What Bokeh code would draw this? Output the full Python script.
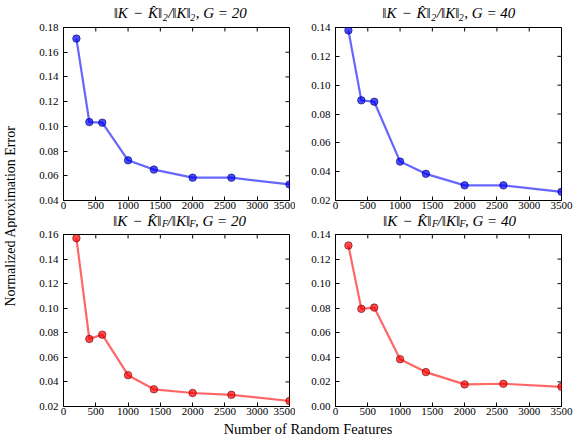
import math
from bokeh.plotting import figure
from bokeh.layouts import row, column
from bokeh.models import Range1d, FixedTicker, PrintfTickFormatter, Label
from bokeh.embed import file_html
from bokeh.resources import INLINE

# ---------------- data ----------------
features = [200, 400, 600, 1000, 1400, 2000, 2600, 3500]
err_spec_g20 = [0.171, 0.1035, 0.103, 0.0725, 0.065, 0.0585, 0.0585, 0.053]
err_spec_g40 = [0.138, 0.0895, 0.0885, 0.047, 0.0385, 0.0305, 0.0305, 0.026]
err_frob_g20 = [0.157, 0.075, 0.0785, 0.0455, 0.034, 0.031, 0.0295, 0.0245]
err_frob_g40 = [0.131, 0.0795, 0.0805, 0.0385, 0.028, 0.018, 0.0185, 0.016]

x_ticks = [0, 500, 1000, 1500, 2000, 2500, 3000, 3500]
y_ticks_spec_g20 = [0.04, 0.06, 0.08, 0.10, 0.12, 0.14, 0.16, 0.18]
y_ticks_spec_g40 = [0.02, 0.04, 0.06, 0.08, 0.10, 0.12, 0.14]
y_ticks_frob_g20 = [0.02, 0.04, 0.06, 0.08, 0.10, 0.12, 0.14, 0.16]
y_ticks_frob_g40 = [0.00, 0.02, 0.04, 0.06, 0.08, 0.10, 0.12, 0.14]

y_label = "Normalized Aproximation Error"
x_label = "Number of Random Features"

FONT = "Liberation Serif"
FRAME_W = 226

YL_W = 17
L_BL, L_BR = 46, 6
R_BL, R_BR = 40, 12
WL = L_BL + FRAME_W + L_BR
WR = R_BL + FRAME_W + R_BR
T1_H = 21
P1_H, P1_T, P1_B = 192, 6, 13
T2_H = 15
P2_H, P2_T, P2_B = 192, 6, 14
XL_H = 16
TOTAL_H = T1_H + P1_H + T2_H + P2_H + XL_H

W_P3 = 21.5


def blank(w, h):
    f = figure(width=w, height=h, x_range=Range1d(0, w), y_range=Range1d(0, h),
               x_axis_type=None, y_axis_type=None,
               output_backend="svg", toolbar_location=None, min_border=0)
    f.grid.visible = False
    f.outline_line_color = None
    f.background_fill_color = "white"
    f.border_fill_color = "white"
    return f


def title_fig(w, h, cx, ymain, ysub, sub, g):
    f = blank(w, h)
    a = cx - 15
    pieces = [
        (a, "right", ymain, "\u2016K\u2004\u2212\u2004K\u0302\u2016", "15px"),
        (a + 0.5, "left", ysub, sub, "10px"),
        (a + 6, "left", ymain, "/\u2016K\u2016", "15px"),
        (a + 6.5 + W_P3, "left", ysub, sub, "10px"),
        (a + 12 + W_P3, "left", ymain, ", G = %d" % g, "15px"),
    ]
    for x, align, y, t, size in pieces:
        f.add_layout(Label(x=x, y=y, text=t, text_align=align, text_baseline="middle",
                           text_font=FONT, text_color="black", text_font_size=size,
                           text_font_style="italic"))
    return f


def panel(yvals, yticks, color, edge, w, h, bl, br, bt, bb):
    y0, y1 = yticks[0], yticks[-1]
    p = figure(width=w, height=h, x_range=Range1d(0, 3500), y_range=Range1d(y0, y1),
               output_backend="svg", toolbar_location=None,
               min_border_left=bl, min_border_right=br, min_border_top=bt, min_border_bottom=bb)
    p.grid.visible = False
    p.outline_line_color = "black"
    p.outline_line_alpha = 1
    p.outline_line_width = 1
    p.background_fill_color = "white"
    p.border_fill_color = "white"
    for ax, ticks, fmt, stand in ((p.xaxis[0], x_ticks, "%d", 1), (p.yaxis[0], yticks, "%.2f", 5)):
        ax.ticker = FixedTicker(ticks=ticks)
        ax.formatter = PrintfTickFormatter(format=fmt)
        ax.major_tick_in = 4
        ax.major_tick_out = 0
        ax.minor_tick_in = 0
        ax.minor_tick_out = 0
        ax.major_tick_line_color = "black"
        ax.axis_line_color = "black"
        ax.major_label_standoff = stand
        ax.major_label_text_font = FONT
        ax.major_label_text_font_size = "11px"
        ax.major_label_text_color = "black"
    # inward ticks on top and right edges (half outside frame is clipped)
    p.scatter(x=x_ticks, y=[y1] * len(x_ticks), marker="dash", size=8, angle=math.pi / 2,
              line_color="black", line_width=1)
    p.scatter(x=[3500] * len(yticks), y=yticks, marker="dash", size=8, angle=0,
              line_color="black", line_width=1)
    p.line(features, yvals, line_color=color, line_alpha=0.6, line_width=2.2)
    p.scatter(features, yvals, marker="circle", size=7.5, fill_color=color, fill_alpha=0.7,
              line_color=edge, line_alpha=0.6, line_width=1)
    return p


t1 = title_fig(WL, T1_H, 176.7 - YL_W, 8.1, 4.5, "2", 20)
t2 = title_fig(WR, T1_H, 445.3 - YL_W - WL, 8.1, 4.5, "2", 40)
t3 = title_fig(WL, T2_H, 176.0 - YL_W, 7.5, 4.6, "F", 20)
t4 = title_fig(WR, T2_H, 446.0 - YL_W - WL, 7.5, 4.6, "F", 40)

p1 = panel(err_spec_g20, y_ticks_spec_g20, "#0000ff", "#000066", WL, P1_H, L_BL, L_BR, P1_T, P1_B)
p2 = panel(err_spec_g40, y_ticks_spec_g40, "#0000ff", "#000066", WR, P1_H, R_BL, R_BR, P1_T, P1_B)
p3 = panel(err_frob_g20, y_ticks_frob_g20, "#ff0000", "#660000", WL, P2_H, L_BL, L_BR, P2_T, P2_B)
p4 = panel(err_frob_g40, y_ticks_frob_g40, "#ff0000", "#660000", WR, P2_H, R_BL, R_BR, P2_T, P2_B)

ylab = blank(YL_W, TOTAL_H)
ylab.add_layout(Label(x=9.5, y=TOTAL_H - 215.5, text=y_label, angle=math.pi / 2,
                      text_align="center", text_baseline="middle", text_font=FONT,
                      text_font_size="14px", text_color="black"))
xlab = blank(WL + WR, XL_H)
xlab.add_layout(Label(x=307.5 - YL_W, y=7.5, text=x_label, text_align="center",
                      text_baseline="middle", text_font=FONT, text_font_size="14.5px",
                      text_color="black"))

layout = row(ylab, column(row(t1, t2), row(p1, p2), row(t3, t4), row(p3, p4), xlab))

open("out.html", "w").write(file_html(layout, INLINE))
